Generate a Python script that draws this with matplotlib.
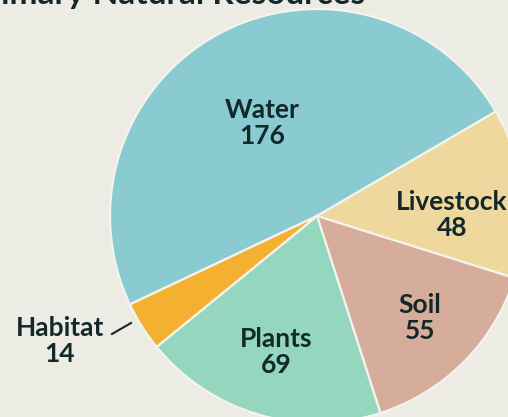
import matplotlib
matplotlib.use("Agg")
import matplotlib.pyplot as plt

categories = ["Water", "Livestock", "Soil", "Plants", "Habitat"]
values = [176, 48, 55, 69, 14]
colors = ["#8ACBD1", "#EFD89D", "#D6AC9A", "#94D6BE", "#F4B030"]
title = "Primary Natural Resources"

W, H = 508, 417
cx, cy, R = 317, 216, 207
bg = "#ECEBE4"
txt = "#13282A"

fig = plt.figure(figsize=(W / 100, H / 100), dpi=100, facecolor=bg)
ax = fig.add_axes([0, 0, 1, 1])
ax.set_facecolor(bg)
ax.pie(values, colors=colors, startangle=205.3, counterclock=False,
       wedgeprops=dict(edgecolor="#F4F3EE", linewidth=1.6))
ax.set_aspect("auto")
ax.set_xlim(-cx / R, (W - cx) / R)
ax.set_ylim(-(H - cy) / R, cy / R)
ax.axis("off")

def px(x, y):
    return (x - cx) / R, (cy - y) / R

label_pos = {"Water": (262, 123), "Livestock": (452, 215), "Soil": (420, 318),
             "Plants": (276, 352), "Habitat": (60, 341)}
for cat, v in zip(categories, values):
    x, y = px(*label_pos[cat])
    ax.text(x, y, f"{cat}\n{v}", ha="center", va="center", fontsize=19,
            fontweight="bold", family="Lato", color=txt, linespacing=1.1)

x0, y0 = px(112, 334)
x1, y1 = px(131, 323)
ax.plot([x0, x1], [y0, y1], color=txt, lw=1.5)

fig.text(365 / W, 1 - 4 / H, title, ha="right", va="baseline", fontsize=24,
         fontweight="bold", family="Lato", color=txt)

fig.savefig("out.png", dpi=100, facecolor=bg)
